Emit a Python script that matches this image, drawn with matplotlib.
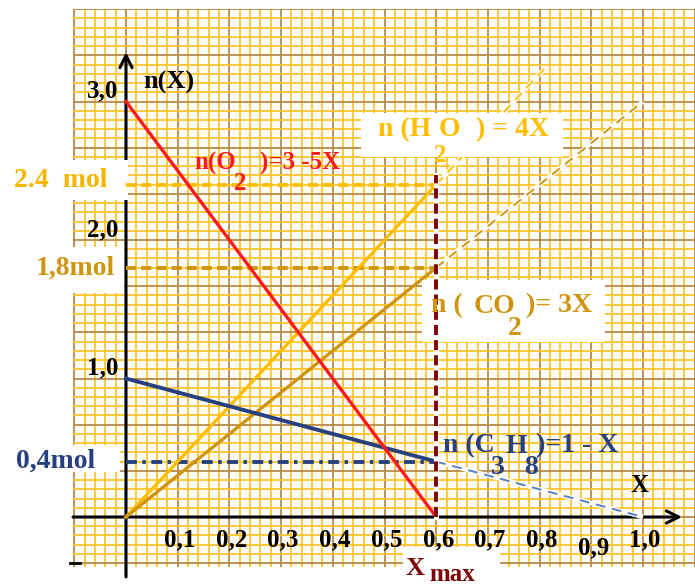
import matplotlib
matplotlib.use("Agg")
import matplotlib.pyplot as plt
from matplotlib.ticker import MultipleLocator
from matplotlib.patches import Rectangle

plt.rcParams["font.family"] = ["Liberation Serif", "DejaVu Serif"]
plt.rcParams["font.weight"] = "bold"

# ---- data: propane combustion progress table ----
x_seg = [0.0, 0.6]                 # advancement from 0 to x_max
n_o2 = [3.0, 0.0]                  # n(O2) = 3 - 5X
n_h2o = [0.0, 2.4]                 # n(H2O) = 4X
n_co2 = [0.0, 1.8]                 # n(CO2) = 3X
n_c3h8 = [1.0, 0.4]                # n(C3H8) = 1 - X

h2o_ext_x = [0.6, 0.81]
h2o_ext = [2.4, 3.24]
co2_ext_x = [0.6, 1.0]
co2_ext = [1.8, 3.0]
c3h8_ext_x = [0.6, 1.0]
c3h8_ext = [0.4, 0.0]

x_max = 0.6
final_levels = [2.4, 1.8, 0.4]     # H2O, CO2, C3H8 at x_max

x_ticks = [0.1, 0.2, 0.3, 0.4, 0.5, 0.6, 0.7, 0.8, 0.9, 1.0]
x_tick_labels = ["0,1", "0,2", "0,3", "0,4", "0,5", "0,6", "0,7", "0,8", "0,9", "1,0"]
y_ticks = [3.0, 2.0, 1.0]
y_tick_labels = ["3,0", "2,0", "1,0"]

# ---- colours ----
RED = "#FF1A1A"
YELLOW = "#FFBE00"
GOLD = "#CF9510"
BLUE = "#27407F"
BLUE_LIGHT = "#5B80C2"
MAROON = "#7E0505"
MINOR = "#FFC42A"
MAJOR = "#B98A45"

W, H = 695, 588
fig = plt.figure(figsize=(W / 100, H / 100), dpi=100, facecolor="white")
ax = fig.add_axes([73 / W, 21 / H, 622 / W, 558 / H])
ax.set_xlim(-53 / 517, 569 / 517)
ax.set_ylim(-50 / 138.5, 508 / 138.5)
ax.set_facecolor("white")
for s in ax.spines.values():
    s.set_visible(False)

# graph-paper grid
ax.xaxis.set_major_locator(MultipleLocator(0.1))
ax.xaxis.set_minor_locator(MultipleLocator(0.02))
ax.yaxis.set_major_locator(MultipleLocator(1 / 3))
ax.yaxis.set_minor_locator(MultipleLocator(1 / 15))
ax.tick_params(which="both", length=0, labelbottom=False, labelleft=False)
ax.set_axisbelow(True)
ax.grid(which="minor", color=MINOR, lw=1.3)
ax.grid(which="major", color=MAJOR, lw=1.3)

# white patches behind the side labels
def white_box(x0, x1, y0, y1, z=3.5):
    ax.add_patch(Rectangle((x0, y0), x1 - x0, y1 - y0, facecolor="white",
                           edgecolor="none", zorder=z, clip_on=False))

white_box(-0.11, 0.004, 2.289, 2.578)
white_box(-0.11, -0.004, 1.617, 1.949)
white_box(-0.11, -0.012, 0.325, 0.520)
white_box(0.536, 0.723, -0.37, -0.217)

# coordinate axes with open arrowheads
ax.annotate("", xy=(0, 3.357), xytext=(0, -0.433),
            arrowprops=dict(arrowstyle="->", lw=2.2, color="black", mutation_scale=22,
                            shrinkA=0, shrinkB=0),
            annotation_clip=False, zorder=3)
ax.annotate("", xy=(1.0754, 0), xytext=(-0.1025, 0),
            arrowprops=dict(arrowstyle="->", lw=2.2, color="black", mutation_scale=22,
                            shrinkA=0, shrinkB=0),
            annotation_clip=False, zorder=3)
ax.plot([-0.108, -0.089], [-0.332, -0.332], color="black", lw=2, clip_on=False, zorder=3)

# dashed extensions beyond x_max (white underlay)
for ex, ey, col in [(h2o_ext_x, h2o_ext, YELLOW), (co2_ext_x, co2_ext, GOLD),
                    (c3h8_ext_x, c3h8_ext, BLUE_LIGHT)]:
    ax.plot(ex, ey, color="white", lw=3.2, zorder=4, solid_capstyle="butt")
    ax.plot(ex, ey, color=col, lw=1.4, ls=(0, (5, 3.5)), zorder=4.2)

# amounts at x_max
ax.plot([0, x_max], [final_levels[0]] * 2, color=YELLOW, lw=2.8, ls=(0, (2.6, 1.3)), zorder=4.5)
ax.plot([0, x_max], [final_levels[1]] * 2, color=GOLD, lw=2.8, ls=(0, (2.6, 1.3)), zorder=4.5)
ax.plot([0, x_max], [final_levels[2]] * 2, color=BLUE, lw=2.8, ls=(0, (2.8, 1.4, 0.9, 1.4)), zorder=4.5)

# reaction lines
ax.plot(x_seg, n_h2o, color=YELLOW, lw=2.4, zorder=5)
ax.plot(x_seg, n_co2, color=GOLD, lw=2.4, zorder=5)
ax.plot(x_seg, n_c3h8, color=BLUE, lw=2.8, zorder=5)
ax.plot(x_seg, n_o2, color=RED, lw=2.4, zorder=5.2)

# label boxes for H2O and CO2
white_box(0.4545, 0.8453, 2.600, 2.917, z=6)
white_box(0.5725, 0.9265, 1.264, 1.711, z=6)

# x_max marker
ax.plot([x_max, x_max], [0, 2.47], color="white", lw=3.6, zorder=7.8)
ax.plot([x_max, x_max], [0, 2.47], color=MAROON, lw=2.8, ls=(0, (2.6, 1.3)), zorder=8)

fs = 18
tk = dict(fontweight="bold", zorder=9, clip_on=False)

# axis labels and tick values
ax.text(0.033, 3.141, "n(X)", fontsize=19, ha="left", va="center", color="black", **tk)
ax.text(0.994, 0.224, "X", fontsize=fs, ha="center", va="center", color="black", **tk)
for yv, lab in zip(y_ticks, y_tick_labels):
    ax.text(-0.015, yv + 0.075, lab, fontsize=fs, ha="right", va="center", color="black", **tk)
for xv, lab in zip(x_ticks, x_tick_labels):
    yl = -0.224 if lab == "0,9" else -0.166
    ax.text(xv + 0.004, yl, lab, fontsize=fs, ha="center", va="center", color="black", **tk)

ax.text(-0.1257, 2.426, "2.4  mol", fontsize=20, ha="center", va="center", color="#F7B500", **tk)
ax.text(-0.0986, 1.798, "1,8mol", fontsize=20, ha="center", va="center", color=GOLD, **tk)
ax.text(-0.136, 0.404, "0,4mol", fontsize=20, ha="center", va="center", color=BLUE, **tk)

ax.text(0.540, -0.372, "X", fontsize=19, ha="left", va="center", color=MAROON, **tk)
ax.text(0.587, -0.418, "max", fontsize=18, ha="left", va="center", color=MAROON, **tk)

# equation labels
ax.text(0.172, 2.556, "n(O", fontsize=18, ha="center", va="center", color=RED, **tk)
ax.text(0.2205, 2.405, "2", fontsize=18, ha="center", va="center", color=RED, **tk)
ax.text(0.3366, 2.556, ")=3 -5X", fontsize=18, ha="center", va="center", color=RED, **tk)

ax.text(0.5387, 2.80, "n (H", fontsize=20, ha="center", va="center", color=YELLOW, **tk)
ax.text(0.6248, 2.80, "O", fontsize=20, ha="center", va="center", color=YELLOW, **tk)
ax.text(0.7476, 2.80, ") = 4X", fontsize=20, ha="center", va="center", color=YELLOW, **tk)
ax.text(0.6074, 2.612, "2", fontsize=18, ha="center", va="center", color=YELLOW, **tk)

ax.text(0.621, 1.523, "n (", fontsize=20, ha="center", va="center", color=GOLD, **tk)
ax.text(0.7137, 1.523, "CO", fontsize=20, ha="center", va="center", color=GOLD, **tk)
ax.text(0.8375, 1.523, ")= 3X", fontsize=20, ha="center", va="center", color=GOLD, **tk)
ax.text(0.7524, 1.362, "2", fontsize=20, ha="center", va="center", color=GOLD, **tk)

ax.text(0.6625, 0.5126, "n (C", fontsize=20, ha="center", va="center", color=BLUE, **tk)
ax.text(0.7544, 0.5126, "H", fontsize=20, ha="center", va="center", color=BLUE, **tk)
ax.text(0.8733, 0.5126, ")=1 - X", fontsize=20, ha="center", va="center", color=BLUE, **tk)
ax.text(0.7195, 0.358, "3", fontsize=20, ha="center", va="center", color=BLUE, **tk)
ax.text(0.7834, 0.358, "8", fontsize=20, ha="center", va="center", color=BLUE, **tk)

fig.savefig("out.png", dpi=100, facecolor="white")
